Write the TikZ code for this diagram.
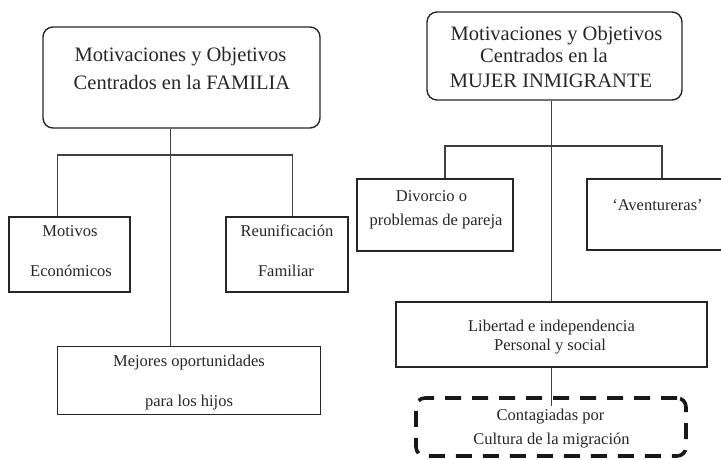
\documentclass[tikz,border=0pt]{standalone}
\usepackage{fontspec}
\setmainfont{Liberation Serif}
\begin{document}
\begin{tikzpicture}[x=1pt,y=-1pt,
  box/.style={draw=black!85, line width=1.4pt, inner sep=0pt},
  topbox/.style={box, rounded corners=10pt},
  dashbox/.style={draw=black!90, line width=3.6pt, rounded corners=9pt, dash pattern=on 16pt off 11pt, inner sep=0pt},
  conn/.style={draw=black!75, line width=1.4pt},
  big/.style={anchor=base, inner sep=0pt, text=black!85, font=\fontsize{20.5}{22}\selectfont},
  small/.style={anchor=base, inner sep=0pt, text=black!85, font=\fontsize{16.5}{18}\selectfont}]
\useasboundingbox (0,0) rectangle (721,459);

% ---- left tree ----
\node[topbox, minimum width=277pt, minimum height=101pt] (famtop) at (181.5,77.5) {};
\node[big] (ft1) at (180.5,61.7) {Motivaciones y Objetivos};
\node[big] (ft2) at (182,89.3) {Centrados en la FAMILIA};

\node[box, minimum width=121pt, minimum height=75pt] (mot) at (69.5,254.5) {};
\node[small] (mot1) at (70,236.7) {Motivos};
\node[small] (mot2) at (71,276.7) {Económicos};

\node[box, minimum width=122pt, minimum height=75pt] (reu) at (287,254.5) {};
\node[small] (reu1) at (287,236.7) {Reunificación};
\node[small] (reu2) at (286,276.7) {Familiar};

\node[box, minimum width=263pt, minimum height=68pt] (mej) at (188.7,380.3) {};
\node[small] (mej1) at (189,366) {Mejores oportunidades};
\node[small] (mej2) at (189,406.7) {para los hijos};

\coordinate (lj) at (170.7,155);
\coordinate (ll) at (57.7,155);
\coordinate (lr) at (292.3,155);
\draw[conn] (famtop.south -| lj) -- (mej.north -| lj);
\draw[conn] (mot.north -| ll) -- (ll) -- (lr) -- (reu.north -| lr);

% ---- right tree ----
\node[topbox, minimum width=255pt, minimum height=88pt] (mujtop) at (554.5,56) {};
\node[big] (mt1) at (556.5,40) {Motivaciones y Objetivos};
\node[big] (mt2) at (544,62) {Centrados en la};
\node[big] (mt3) at (551,87) {MUJER INMIGRANTE};

\node[box, minimum width=156pt, minimum height=72pt] (div) at (435,215) {};
\node[small] (div1) at (431.5,201.7) {Divorcio o};
\node[small] (div2) at (436,225) {problemas de pareja};

\node[box, minimum width=140pt, minimum height=71pt] (ave) at (657,214.5) {};
\node[small] (ave1) at (657.5,210) {‘Aventureras’};

\node[box, minimum width=311pt, minimum height=65pt] (lib) at (551.5,334.5) {};
\node[small] (lib1) at (551.5,331.7) {Libertad e independencia};
\node[small] (lib2) at (550,350.7) {Personal y social};

\node[dashbox, minimum width=270pt, minimum height=58pt] (con) at (551,427) {};
\node[small] (con1) at (550.5,420) {Contagiadas por};
\node[small] (con2) at (551.5,444) {Cultura de la migración};

\coordinate (rj) at (551.7,146);
\coordinate (rl) at (445,146);
\coordinate (rr) at (662,146);
\coordinate (cend) at (551.7,406);
\draw[conn] (mujtop.south -| rj) -- (lib.north -| rj);
\draw[conn] (div.north -| rl) -- (rl) -- (rr) -- (ave.north -| rr);
\draw[conn] (lib.south -| rj) -- (cend);
\end{tikzpicture}
\end{document}
